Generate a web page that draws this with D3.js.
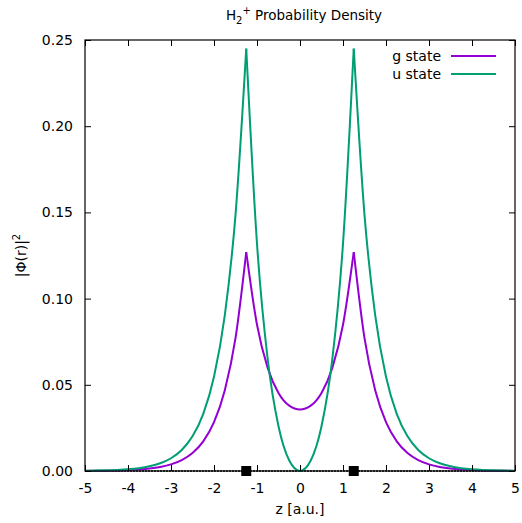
<!DOCTYPE html>
<html>
<head>
<meta charset="utf-8">
<script src="https://cdn.jsdelivr.net/npm/d3@7"></script>
<style>
  body { margin: 0; background: #fff; }
  svg text { font-family: "DejaVu Sans", sans-serif; fill: #000; }
</style>
</head>
<body>
<svg id="chart" width="522" height="523"></svg>
<script>
// z positions (a.u.) sampled along the molecular axis
let zValues = [-5, -4.75, -4.5, -4.25, -4, -3.75, -3.5, -3.25, -3, -2.75, -2.5, -2.25, -2, -1.75, -1.5, -1.25,
  -1, -0.75, -0.5, -0.25, 0, 0.25, 0.5, 0.75, 1, 1.25,
  1.5, 1.75, 2, 2.25, 2.5, 2.75, 3, 3.25, 3.5, 3.75, 4, 4.25, 4.5, 4.75, 5];
let gState = [0.00007, 0.00012, 0.00019, 0.00031, 0.00052, 0.00086, 0.00141, 0.00233, 0.00384, 0.00632, 0.01042, 0.01719, 0.02834, 0.04672, 0.07703, 0.127,
  0.0848, 0.05969, 0.04528, 0.03789, 0.03561, 0.03789, 0.04528, 0.05969, 0.0848, 0.127,
  0.07703, 0.04672, 0.02834, 0.01719, 0.01042, 0.00632, 0.00384, 0.00233, 0.00141, 0.00086, 0.00052, 0.00031, 0.00019, 0.00012, 0.00007];
let uState = [0.00014, 0.00022, 0.00037, 0.00061, 0.001, 0.00165, 0.00272, 0.00449, 0.0074, 0.0122, 0.02011, 0.03316, 0.05467, 0.09013, 0.1486, 0.245,
  0.13186, 0.06456, 0.025925, 0.006093, 0, 0.006093, 0.025925, 0.06456, 0.13186, 0.245,
  0.1486, 0.09013, 0.05467, 0.03316, 0.02011, 0.0122, 0.0074, 0.00449, 0.00272, 0.00165, 0.001, 0.00061, 0.00037, 0.00022, 0.00014];
let nuclei = [-1.25, 1.25];
let xTicks = [-5, -4, -3, -2, -1, 0, 1, 2, 3, 4, 5];
let yTicks = [0, 0.05, 0.10, 0.15, 0.20, 0.25];
let seriesNames = ["g state", "u state"];
let seriesColours = ["#9400d3", "#009e73"];

let svg = d3.select("#chart");
let width = 522, height = 523;
let margin = {left: 85, right: 7, top: 40, bottom: 52};

let x = d3.scaleLinear().domain([-5, 5]).range([margin.left, width - margin.right]);
let y = d3.scaleLinear().domain([0, 0.25]).range([height - margin.bottom, margin.top]);

// baseline through zero
svg.append("line")
  .attr("x1", x(-5)).attr("x2", x(5))
  .attr("y1", y(0)).attr("y2", y(0))
  .attr("stroke", "#444").attr("stroke-width", 2)
  .attr("stroke-dasharray", "2,1");

// split each curve at the cusps so the peaks stay sharp
let breaks = [-5].concat(nuclei, [5]);
let line = d3.line()
  .x(d => x(d[0]))
  .y(d => y(d[1]))
  .curve(d3.curveMonotoneX);

[gState, uState].forEach(function(vals, i){
  let pts = zValues.map((z, j) => [z, vals[j]]);
  for (let k = 0; k < breaks.length - 1; k++){
    let seg = pts.filter(p => p[0] >= breaks[k] && p[0] <= breaks[k + 1]);
    svg.append("path")
      .attr("d", line(seg))
      .attr("fill", "none")
      .attr("stroke", seriesColours[i])
      .attr("stroke-width", 2)
      .attr("stroke-linejoin", "round");
  }
});

// nuclei markers
svg.selectAll("rect.nucleus")
  .data(nuclei)
  .join("rect")
    .attr("class", "nucleus")
    .attr("x", d => x(d) - 5).attr("y", y(0) - 5)
    .attr("width", 10).attr("height", 10)
    .attr("fill", "#000");

// axes with mirrored ticks (plain hyphen for negatives, like gnuplot)
let axisB = svg.append("g").attr("transform", `translate(0,${y(0)})`)
  .call(d3.axisBottom(x).tickValues(xTicks).tickSize(-6).tickPadding(12).tickFormat(d => String(d)));
let axisT = svg.append("g").attr("transform", `translate(0,${margin.top})`)
  .call(d3.axisTop(x).tickValues(xTicks).tickSize(-6).tickFormat(""));
let axisL = svg.append("g").attr("transform", `translate(${margin.left},0)`)
  .call(d3.axisLeft(y).tickValues(yTicks).tickSize(-6).tickPadding(12).tickFormat(d => d.toFixed(2)));
let axisR = svg.append("g").attr("transform", `translate(${width - margin.right},0)`)
  .call(d3.axisRight(y).tickValues(yTicks).tickSize(-6).tickFormat(""));

[axisB, axisT, axisL, axisR].forEach(function(g){
  g.select(".domain").remove();
  g.selectAll(".tick line").attr("stroke", "#000");
  g.selectAll(".tick text").attr("font-size", 14).attr("font-family", "DejaVu Sans, sans-serif");
});

svg.append("rect")
  .attr("x", margin.left).attr("y", margin.top)
  .attr("width", width - margin.right - margin.left)
  .attr("height", height - margin.bottom - margin.top)
  .attr("fill", "none").attr("stroke", "#000").attr("stroke-width", 1.2);

// title
let title = svg.append("text")
  .attr("x", (margin.left + width - margin.right) / 2 + 4).attr("y", 20)
  .attr("text-anchor", "middle").attr("font-size", 13.5);
title.append("tspan").text("H");
title.append("tspan").attr("font-size", 10).attr("dy", 4).text("2");
title.append("tspan").attr("font-size", 10).attr("dy", -10).text("+");
title.append("tspan").attr("dy", 6).text(" Probability Density");

// axis titles
svg.append("text")
  .attr("x", (margin.left + width - margin.right) / 2).attr("y", 514)
  .attr("text-anchor", "middle").attr("font-size", 14)
  .text("z [a.u.]");

let yName = svg.append("text")
  .attr("transform", `translate(26,${(margin.top + height - margin.bottom) / 2}) rotate(-90)`)
  .attr("text-anchor", "middle").attr("font-size", 14);
yName.append("tspan").text("|Φ(r)|");
yName.append("tspan").attr("font-size", 10).attr("dy", -6).text("2");

// legend
let legend = svg.append("g").attr("class", "legend");
seriesNames.forEach(function(name, i){
  let ly = 56 + i * 18;
  legend.append("text")
    .attr("x", 441).attr("y", ly + 5)
    .attr("text-anchor", "end").attr("font-size", 14)
    .text(name);
  legend.append("line")
    .attr("x1", 451).attr("x2", 496)
    .attr("y1", ly).attr("y2", ly)
    .attr("stroke", seriesColours[i]).attr("stroke-width", 2);
});
</script>
</body>
</html>
